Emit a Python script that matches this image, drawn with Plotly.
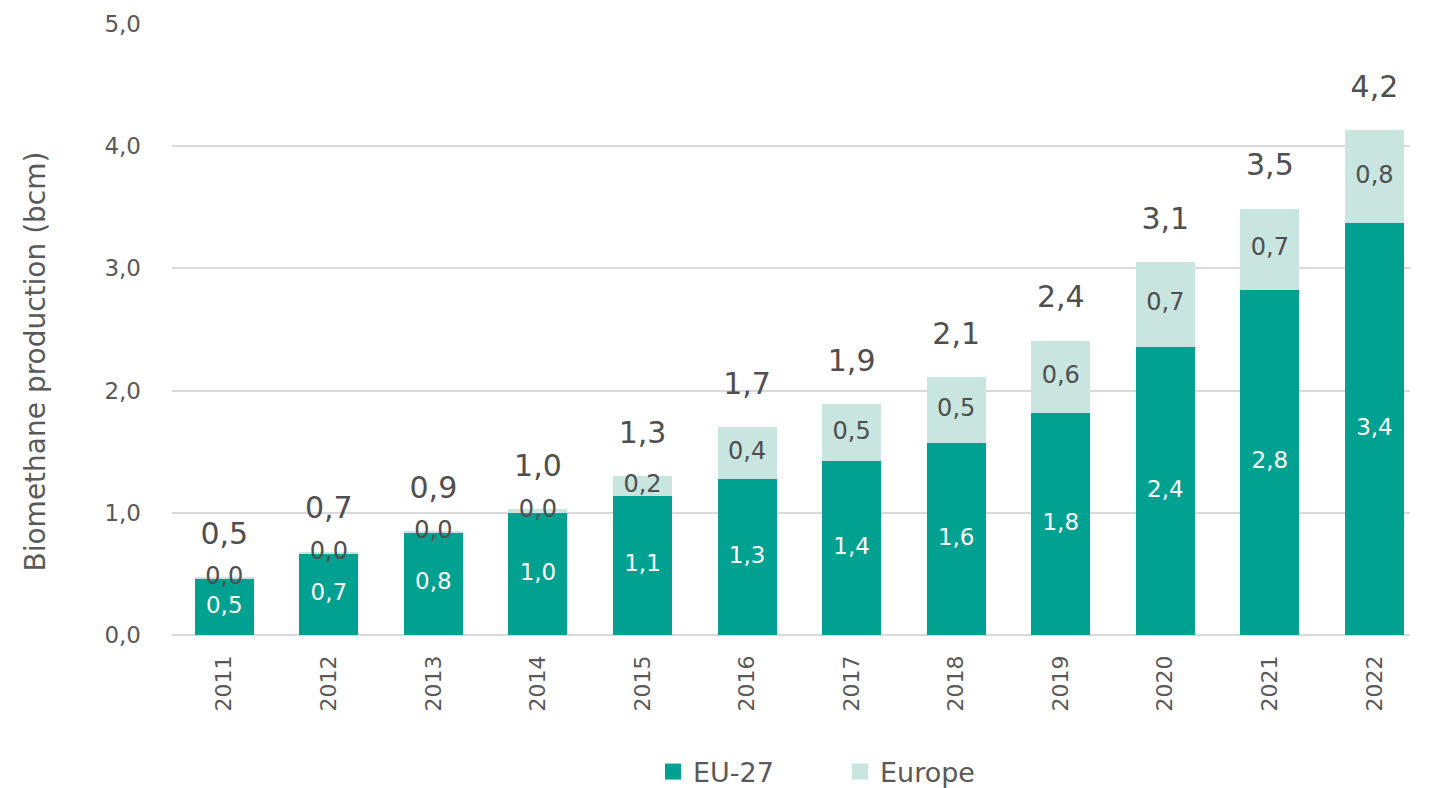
import plotly.graph_objects as go

years = ["2011", "2012", "2013", "2014", "2015", "2016", "2017", "2018", "2019", "2020", "2021", "2022"]
eu27 = [0.46, 0.67, 0.84, 1.00, 1.14, 1.28, 1.42, 1.57, 1.82, 2.36, 2.82, 3.37]
europe = [0.01, 0.01, 0.01, 0.03, 0.16, 0.42, 0.47, 0.54, 0.59, 0.69, 0.67, 0.76]
total_labels = [0.5, 0.7, 0.9, 1.0, 1.3, 1.7, 1.9, 2.1, 2.4, 3.1, 3.5, 4.2]

TEAL = "#00A190"
LIGHT = "#C9E5DF"
DARK = "#4F4F4F"
GREY = "#595959"
FONT = "DejaVu Sans"


def fmt(v):
    return f"{v:.1f}".replace(".", ",")


fig = go.Figure()
fig.add_trace(go.Bar(x=years, y=eu27, name="EU-27", showlegend=False,
                     marker=dict(color=TEAL, line=dict(width=0))))
fig.add_trace(go.Bar(x=years, y=europe, name="Europe", showlegend=False,
                     marker=dict(color=LIGHT, line=dict(width=0))))

# legend entries (square swatches)
for nm, col in [("EU-27", TEAL), ("Europe", LIGHT)]:
    fig.add_trace(go.Scatter(x=[None], y=[None], mode="markers", name=nm,
                             marker=dict(symbol="square", size=18, color=col)))

# EU-27 labels (white, centered)
fig.add_trace(go.Scatter(
    x=years, y=[v / 2 for v in eu27], mode="text",
    text=[fmt(v) for v in eu27], textposition="middle center",
    textfont=dict(color="white", size=23, family=FONT),
    showlegend=False, hoverinfo="skip", cliponaxis=False))

# Europe labels (dark, centered on segment)
fig.add_trace(go.Scatter(
    x=years, y=[a + b / 2 for a, b in zip(eu27, europe)], mode="text",
    text=[fmt(v) for v in europe], textposition="middle center",
    textfont=dict(color=DARK, size=24, family=FONT),
    showlegend=False, hoverinfo="skip", cliponaxis=False))

# Totals above the stacks
fig.add_trace(go.Scatter(
    x=years, y=[a + b for a, b in zip(eu27, europe)], mode="markers+text",
    marker=dict(size=40, color="rgba(0,0,0,0)"),
    text=[fmt(v) for v in total_labels], textposition="top center",
    textfont=dict(color=DARK, size=30, family=FONT),
    showlegend=False, hoverinfo="skip", cliponaxis=False))

fig.add_annotation(
    text="Biomethane production (bcm)", textangle=-90,
    xref="paper", yref="paper", x=(35 - 172) / 1238, y=(635 - 361.5) / 611,
    xanchor="center", yanchor="middle", showarrow=False,
    font=dict(size=28, color=GREY, family=FONT))

fig.update_layout(
    barmode="stack",
    bargap=0.436,
    width=1426, height=780,
    margin=dict(l=164, r=24, t=16, b=153, autoexpand=False),
    plot_bgcolor="white", paper_bgcolor="white",
    separators=",.",
    font=dict(family=FONT, color=GREY, size=22),
    legend=dict(orientation="h", x=(653 - 172) / 1238, xanchor="left",
                y=(635 - 772) / 611, yanchor="middle",
                font=dict(size=27, color=GREY, family=FONT), entrywidth=142,
                traceorder="normal", itemsizing="trace"),
    xaxis=dict(tickangle=-90, showgrid=False, showline=False, ticks="",
               tickfont=dict(size=22, color=GREY, family=FONT), range=[-0.5, 11.34],
               ticklabelstandoff=15, automargin=False),
    yaxis=dict(range=[0, 5], dtick=1, tickformat=".1f", showgrid=True, gridcolor="#D9D9D9",
               gridwidth=2, zeroline=True, zerolinecolor="#D9D9D9", zerolinewidth=2,
               showline=False, ticks="", tickfont=dict(size=23, color=GREY, family=FONT),
               ticklabelstandoff=30, automargin=False),
)

fig.write_html("out.html")
